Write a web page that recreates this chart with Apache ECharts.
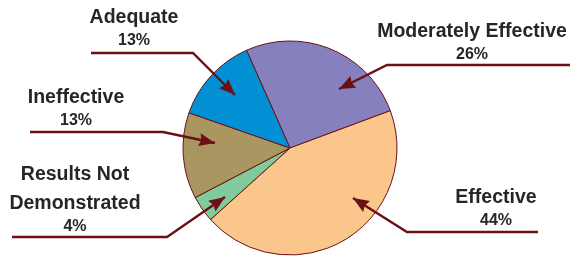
<!DOCTYPE html>
<html>
<head>
<meta charset="utf-8">
<script src="https://cdn.jsdelivr.net/npm/echarts@6/dist/echarts.min.js"></script>
<style>
  html, body { margin: 0; padding: 0; background: #fff; }
  #pie-chart { width: 570px; height: 256px; }
</style>
</head>
<body>
<div id="pie-chart"></div>
<script>
'use strict'

// data, clockwise from the top-left slice
var categories = ['Moderately Effective', 'Effective', 'Results Not Demonstrated', 'Ineffective', 'Adequate'];
var percents = [26, 44, 4, 13, 13];
var sliceColors = ['#8680BE', '#FBC68B', '#80CA9C', '#A99660', '#0090D3'];

// callout layout: text centre x, underline y, text bottom offset, bend point, arrow tip, line end x
var callouts = [
    { tx: 472, ly: 65, off: 1, bend: [387, 65], tip: [339, 89], endX: 570 },
    { tx: 496, ly: 232, off: 2, bend: [407, 232], tip: [353, 198], endX: 538 },
    { tx: 75, ly: 237, off: 1, bend: [167, 237], tip: [225, 197], endX: 12 },
    { tx: 76, ly: 132, off: 2, bend: [163, 132], tip: [215, 143], endX: 30 },
    { tx: 134, ly: 53, off: 3, bend: [193, 53], tip: [235, 95], endX: 91 }
];

var lineColor = '#6B1014';
var textColor = '#262626';
var fontFam = "'Liberation Sans', Arial, sans-serif";

var dom = document.getElementById('pie-chart');
var pieChart = echarts.init(dom, null, { renderer: 'canvas' });

function arrowHead(tip, from) {
    var dx = tip[0] - from[0], dy = tip[1] - from[1];
    var len = Math.sqrt(dx * dx + dy * dy);
    var ux = dx / len, uy = dy / len;
    var hl = 16, hw = 6.5;
    var bx = tip[0] - ux * hl, by = tip[1] - uy * hl;
    return [
        [tip[0], tip[1]],
        [bx - uy * hw, by + ux * hw],
        [tip[0] - ux * (hl - 2), tip[1] - uy * (hl - 2)],
        [bx + uy * hw, by - ux * hw]
    ];
}

// leader lines and arrow heads
var calloutGraphics = [];
callouts.forEach(function (c) {
    calloutGraphics.push({
        type: 'polyline',
        z: 100,
        shape: { points: [c.tip, c.bend, [c.endX, c.ly]] },
        style: { stroke: lineColor, lineWidth: 2.4, fill: null }
    });
    calloutGraphics.push({
        type: 'polygon',
        z: 101,
        shape: { points: arrowHead(c.tip, c.bend) },
        style: { fill: lineColor }
    });
});

var option = {
    animation: false,
    graphic: calloutGraphics,
    series: [
        {
            type: 'pie',
            center: [290, 148],
            radius: 107,
            startAngle: 114,
            clockwise: true,
            avoidLabelOverlap: false,
            data: categories.map(function (name, i) {
                return { name: name, value: percents[i], itemStyle: { color: sliceColors[i] } };
            }),
            itemStyle: {
                borderColor: lineColor,
                borderWidth: 1
            },
            label: {
                show: true,
                position: 'outside',
                fontFamily: fontFam,
                formatter: function (p) {
                    var lines = p.name.replace('Not ', 'Not\n').split('\n');
                    return lines.map(function (l) { return '{n|' + l + '}'; }).join('\n') +
                        '\n{p|' + p.value + '%}';
                },
                rich: {
                    n: { fontSize: 19.5, fontWeight: 'bold', lineHeight: 29, color: textColor, fontFamily: fontFam, align: 'center' },
                    p: { fontSize: 16, fontWeight: 'bold', lineHeight: 18, color: textColor, fontFamily: fontFam, align: 'center' }
                }
            },
            labelLine: { show: false },
            labelLayout: function (params) {
                var c = callouts[params.dataIndex];
                return {
                    x: c.tx,
                    y: c.ly - c.off,
                    align: 'center',
                    verticalAlign: 'bottom'
                };
            }
        }
    ]
};

if (option && typeof option === 'object') {
    pieChart.setOption(option);
}
</script>
</body>
</html>
